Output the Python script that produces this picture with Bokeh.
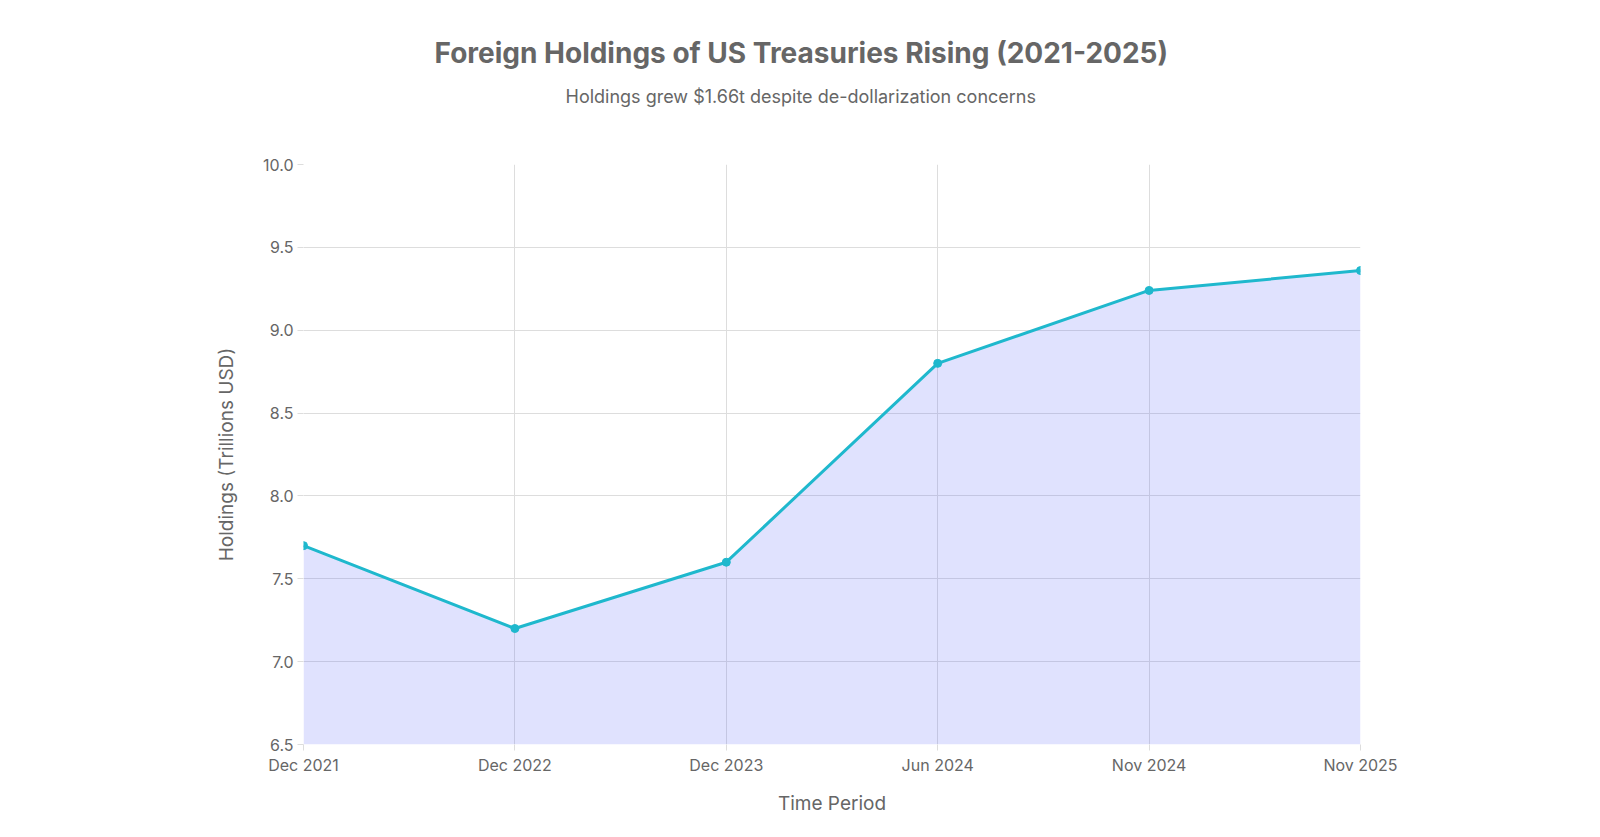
from bokeh.plotting import figure
from bokeh.models import ColumnDataSource, FixedTicker, Range1d, Title
from bokeh.embed import file_html
from bokeh.resources import INLINE

periods = ["Dec 2021", "Dec 2022", "Dec 2023", "Jun 2024", "Nov 2024", "Nov 2025"]
holdings = [7.70, 7.20, 7.60, 8.80, 9.24, 9.36]
y_ticks = [6.5, 7.0, 7.5, 8.0, 8.5, 9.0, 9.5, 10.0]

xs = list(range(len(periods)))
src = ColumnDataSource(dict(x=xs, y=holdings, base=[6.5] * len(xs)))

FONT = "Inter"
GREY = "#666666"

p = figure(width=1600, height=837, output_backend="svg", toolbar_location=None,
           x_range=Range1d(0, len(periods) - 1), y_range=Range1d(6.5, 10.0),
           min_border_left=303, min_border_right=240, min_border_bottom=93, min_border_top=164)
p.outline_line_color = None
p.background_fill_color = "white"
p.border_fill_color = "white"

spacer = Title(text=" ", text_font_size="1px", standoff=50)
p.add_layout(spacer, "above")
sub = Title(text="Holdings grew $1.66t despite de-dollarization concerns", align="left",
            text_font=FONT, text_font_size="18px", text_font_style="normal",
            text_color=GREY, offset=262, standoff=10)
p.add_layout(sub, "above")
ttl = Title(text="Foreign Holdings of US Treasuries Rising (2021-2025)", align="left",
            text_font=FONT, text_font_size="28px", text_font_style="bold",
            text_color=GREY, offset=131, standoff=17)
p.add_layout(ttl, "above")

p.varea(x="x", y1="base", y2="y", source=src, fill_color="#636efa", fill_alpha=0.2)
p.line(x="x", y="y", source=src, line_color="#1FB8CD", line_width=3)
p.scatter(x="x", y="y", source=src, size=8, fill_color="#1FB8CD", line_color="#1FB8CD")

p.xaxis.ticker = FixedTicker(ticks=xs)
p.xaxis.major_label_overrides = {i: s for i, s in enumerate(periods)}
p.yaxis.ticker = FixedTicker(ticks=y_ticks)
p.yaxis.major_label_overrides = {v: f"{v:.1f}" for v in y_ticks}

for ax in (p.xaxis, p.yaxis):
    ax.axis_line_color = None
    ax.major_tick_line_color = "#dddddd"
    ax.major_tick_out = 6
    ax.major_tick_in = 0
    ax.minor_tick_line_color = None
    ax.major_label_text_font = FONT
    ax.major_label_text_font_size = "16px"
    ax.major_label_text_color = GREY
    ax.axis_label_text_font = FONT
    ax.axis_label_text_font_size = "19px"
    ax.axis_label_text_font_style = "normal"
    ax.axis_label_text_color = GREY

p.xaxis.axis_label = "Time Period"
p.yaxis.axis_label = "Holdings (Trillions USD)"
p.xaxis.major_label_standoff = 4
p.yaxis.major_label_standoff = 4
p.xaxis.axis_label_standoff = 14
p.yaxis.axis_label_standoff = 22

p.xgrid.ticker = FixedTicker(ticks=xs)
p.ygrid.ticker = FixedTicker(ticks=y_ticks[:-1])
p.xgrid.grid_line_color = "#dddddd"
p.ygrid.grid_line_color = "#dddddd"
p.xgrid.grid_line_width = 1
p.ygrid.grid_line_width = 1

open("out.html", "w").write(file_html(p, INLINE))
